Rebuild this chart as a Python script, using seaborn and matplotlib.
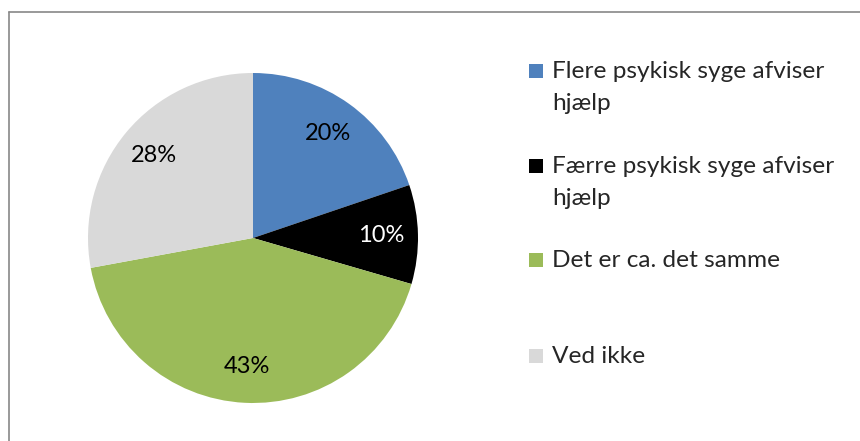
import numpy as np
import seaborn as sns
import matplotlib.pyplot as plt
from matplotlib.patches import Rectangle
from matplotlib.lines import Line2D

# data
categories = ['Flere psykisk syge afviser\nhjælp', 'Færre psykisk syge afviser\nhjælp',
              'Det er ca. det samme', 'Ved ikke']
shares = [19.8, 9.7, 42.6, 27.9]
pct_labels = ['20%', '10%', '43%', '28%']
colors = ['#4F81BD', '#000000', '#9BBB59', '#D9D9D9']
text_colors = ['black', 'white', 'black', 'black']

sns.set_style('white')
plt.rcParams['font.family'] = ['Lato', 'DejaVu Sans']

W, H = 860, 441
fig = plt.figure(figsize=(W / 100, H / 100), dpi=100)

# pie axes: center (253,238) px, radius 165 px
cx, cy, r = 253, 238, 165
ax = fig.add_axes([(cx - r) / W, (H - cy - r) / H, 2 * r / W, 2 * r / H])
pal = sns.color_palette(colors)
wedges, texts, autotexts = ax.pie(shares, colors=pal, startangle=90, counterclock=False,
                                  autopct='%1.0f%%', pctdistance=0.78,
                                  wedgeprops=dict(linewidth=0))
for t, lab, c in zip(autotexts, pct_labels, text_colors):
    t.set_text(lab)
    t.set_color(c)
    t.set_fontsize(17)
ax.set_xlim(-1, 1)
ax.set_ylim(-1, 1)
ax.axis('off')

# legend drawn by hand (marker aligned with first line, like Excel)
leg_base = [78, 173, 267, 363]
for lab, col, y in zip(categories, colors, leg_base):
    fig.add_artist(Rectangle((529 / W, (H - y) / H), 14 / W, 14 / H,
                             transform=fig.transFigure, facecolor=col, edgecolor='none'))
    for i, line in enumerate(lab.split('\n')):
        fig.text(552 / W, (H - y - 32 * i) / H, line, fontsize=17.6, va='baseline', ha='left',
                 transform=fig.transFigure)

# chart frame (cropped, only left and top visible)
fig.add_artist(Line2D([8.5 / W, 8.5 / W], [0, (H - 11.5) / H], transform=fig.transFigure,
                      color='#888888', linewidth=1.2))
fig.add_artist(Line2D([8.5 / W, 1], [(H - 11.5) / H, (H - 11.5) / H], transform=fig.transFigure,
                      color='#888888', linewidth=1.2))

fig.savefig('out.png', dpi=100)
plt.close(fig)
